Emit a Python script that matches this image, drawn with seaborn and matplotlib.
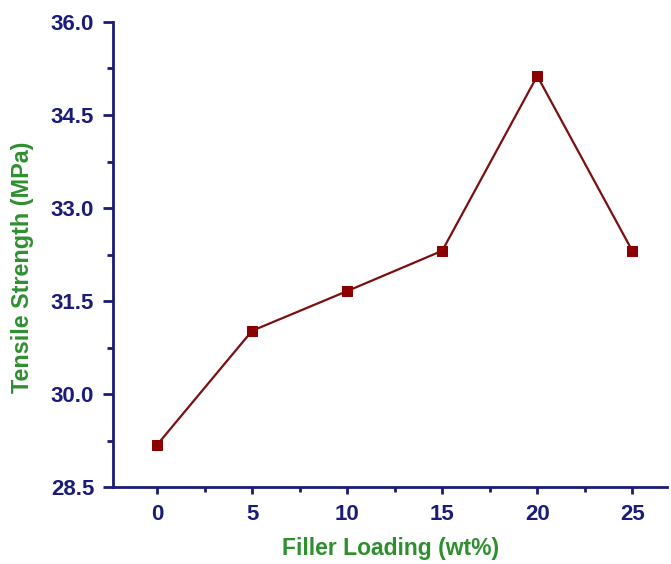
import matplotlib
matplotlib.use("Agg")
import matplotlib.pyplot as plt
from matplotlib.ticker import MultipleLocator
import seaborn as sns

filler_loading = [0, 5, 10, 15, 20, 25]
tensile_strength = [29.18, 31.02, 31.66, 32.31, 35.13, 32.31]
y_ticks = [28.5, 30.0, 31.5, 33.0, 34.5, 36.0]

sns.set_theme(style="ticks")
plt.rcParams['font.family'] = ['Liberation Sans', 'DejaVu Sans']

navy = '#1b1b78'
green = '#2f8f2f'
maroon = '#7a0f0f'

fig = plt.figure(figsize=(6.71, 5.64), dpi=100)
ax = fig.add_axes([0.1684, 0.1365, 0.826, 0.8245])

sns.lineplot(x=filler_loading, y=tensile_strength, ax=ax, color=maroon,
             linewidth=1.6, marker='s', markersize=7,
             markerfacecolor='#8b0000', markeredgecolor='#8b0000')

ax.set_xlim(-2.32, 26.84)
ax.set_ylim(28.5, 36.0)
ax.set_xticks(filler_loading)
ax.set_yticks(y_ticks)
ax.set_yticklabels([f'{v:.1f}' for v in y_ticks])
ax.xaxis.set_minor_locator(MultipleLocator(2.5))
ax.yaxis.set_minor_locator(MultipleLocator(0.75))

sns.despine(ax=ax)
for s in ['left', 'bottom']:
    ax.spines[s].set_color(navy)
    ax.spines[s].set_linewidth(2)

ax.tick_params(axis='y', which='major', direction='out', length=7, width=2,
               colors=navy, labelsize=16, pad=6.5)
ax.tick_params(axis='y', which='minor', direction='out', length=4.5, width=2,
               colors=navy)
ax.tick_params(axis='x', which='major', direction='out', length=5, width=2,
               colors=navy, labelsize=16, pad=7)
ax.tick_params(axis='x', which='minor', direction='out', length=3.5, width=2,
               colors=navy)
for lab in ax.get_xticklabels() + ax.get_yticklabels():
    lab.set_fontweight('bold')

ax.set_xlabel('Filler Loading (wt%)', color=green, fontsize=16.5,
              fontweight='bold')
ax.set_ylabel('Tensile Strength (MPa)', color=green, fontsize=16.8,
              fontweight='bold')
ax.xaxis.set_label_coords(0.5, -0.133)
ax.xaxis.label.set_verticalalignment('center')
ax.yaxis.set_label_coords(-0.1625, 0.473)
ax.yaxis.label.set_verticalalignment('center')

fig.savefig('out.png', dpi=100)
